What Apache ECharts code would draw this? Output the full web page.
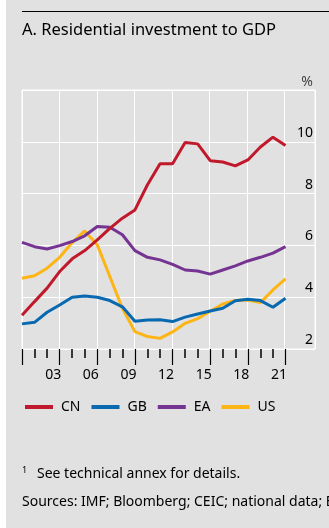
<!DOCTYPE html>
<html>
<head>
<meta charset="utf-8">
<script src="https://cdn.jsdelivr.net/npm/echarts@6/dist/echarts.min.js"></script>
<style>
html,body{margin:0;padding:0;background:#fff;}
#chart{width:329px;height:528px;}
</style>
</head>
<body>
<div id="chart"></div>
<script>
var years = [2000,2001,2002,2003,2004,2005,2006,2007,2008,2009,2010,2011,2012,2013,2014,2015,2016,2017,2018,2019,2020,2021];
var cn = [3.30,3.83,4.35,4.99,5.48,5.80,6.21,6.66,7.05,7.37,8.34,9.15,9.15,9.97,9.92,9.27,9.22,9.07,9.30,9.80,10.18,9.86];
var gb = [2.97,3.03,3.42,3.70,4.00,4.05,4.00,3.87,3.63,3.07,3.12,3.13,3.06,3.23,3.35,3.47,3.57,3.86,3.92,3.87,3.61,3.96];
var ea = [6.12,5.95,5.86,5.99,6.15,6.37,6.73,6.70,6.41,5.80,5.54,5.44,5.27,5.05,5.01,4.89,5.05,5.21,5.40,5.54,5.70,5.95];
var us = [4.73,4.83,5.12,5.54,6.11,6.56,6.02,4.80,3.57,2.67,2.48,2.41,2.66,2.99,3.17,3.46,3.74,3.87,3.89,3.79,4.28,4.71];
var tickLabels = [2003,2006,2009,2012,2015,2018,2021];
var yTicks = [2,4,6,8,10];

function pairs(arr){ return years.map(function(y,i){ return [y, arr[i]]; }); }

var FONT = 'Noto Sans';
var chart = echarts.init(document.getElementById('chart'), null, {renderer:'canvas'});
chart.setOption({
  backgroundColor: '#fff',
  animation: false,
  textStyle: {fontFamily: FONT},
  title: {
    text: 'A. Residential investment to GDP',
    left: 22, top: 22, padding: 0,
    textStyle: {fontFamily: FONT, fontSize: 16.5, fontWeight: 'normal', color: '#000'}
  },
  graphic: [
    {type:'rect', z:-10, shape:{x:6,y:0,width:323,height:528}, style:{fill:'#e1e1e1'}},
    {type:'line', shape:{x1:22,y1:11.5,x2:329,y2:11.5}, style:{stroke:'#000', lineWidth:1}},
    {type:'text', x:313, y:82, style:{text:'%', fill:'#444', font:'14px "Noto Sans"', textAlign:'right', textVerticalAlign:'middle'}},
    {type:'text', x:22, y:470, style:{text:'1', fill:'#000', font:'9px "Noto Sans"', textAlign:'left', textVerticalAlign:'middle'}},
    {type:'text', x:37, y:474, style:{text:'See technical annex for details.', fill:'#000', font:'14px "Noto Sans"', textAlign:'left', textVerticalAlign:'middle'}},
    {type:'text', x:22, y:502, style:{text:'Sources: IMF; Bloomberg; CEIC; national data; BIS.', fill:'#000', font:'14px "Noto Sans"', textAlign:'left', textVerticalAlign:'middle'}}
  ],
  legend: {
    left: 25, top: 400, padding: 0,
    icon: 'rect', itemWidth: 28, itemHeight: 4, itemGap: 11,
    textStyle: {fontFamily: FONT, fontSize: 14, color: '#000', padding: [0,0,0,3]},
    data: ['CN','GB','EA','US']
  },
  grid: [
    {left: 22, right: 14, top: 90, bottom: 179, show: true, borderColor: '#fff', borderWidth: 1, backgroundColor: 'transparent'},
    {left: 22, right: 43.5, top: 90, bottom: 179, show: false}
  ],
  xAxis: [
    {
      gridIndex: 0, type: 'value', min: 2000, max: 2023.44, interval: 3,
      axisLine: {show: false}, axisTick: {show: false}, axisLabel: {show: false},
      splitLine: {show: true, lineStyle: {color: '#fff', width: 1}}
    },
    {
      gridIndex: 1, type: 'value', min: 2000, max: 2021, interval: 3,
      axisLine: {show: false},
      axisTick: {show: true, length: 16, lineStyle: {color: '#000', width: 1.2}},
      minorTick: {show: true, splitNumber: 3, length: 9, lineStyle: {color: '#000', width: 1.5}},
      axisLabel: {
        show: true, margin: 19, padding: [0,13,0,0],
        fontFamily: FONT, fontSize: 14, color: '#000',
        formatter: function(v){ if (tickLabels.indexOf(v) < 0) return ''; var s = String(Math.round(v) % 100); return s.length < 2 ? '0' + s : s; }
      },
      splitLine: {show: false}
    }
  ],
  yAxis: [
    {
      gridIndex: 0, type: 'value', min: 2, max: 12, interval: 2, position: 'right',
      axisLine: {show: false}, axisTick: {show: false},
      axisLabel: {
        inside: true, margin: 2, verticalAlign: 'bottom', padding: [0,0,2,0],
        fontFamily: FONT, fontSize: 14, color: '#000',
        formatter: function(v){ return yTicks.indexOf(v) >= 0 ? String(v) : ''; }
      },
      splitLine: {show: true, lineStyle: {color: '#fff', width: 1}}
    },
    {
      gridIndex: 1, type: 'value', min: 2, max: 12, interval: 2,
      axisLine: {show: false}, axisTick: {show: false}, axisLabel: {show: false}, splitLine: {show: false}
    }
  ],
  series: [
    {name:'US', type:'line', xAxisIndex:1, yAxisIndex:1, data: pairs(us), showSymbol:false, symbol:'none', lineStyle:{width:3, color:'#fdb515'}, itemStyle:{color:'#fdb515'}, z:2},
    {name:'EA', type:'line', xAxisIndex:1, yAxisIndex:1, data: pairs(ea), showSymbol:false, symbol:'none', lineStyle:{width:3, color:'#763492'}, itemStyle:{color:'#763492'}, z:3},
    {name:'GB', type:'line', xAxisIndex:1, yAxisIndex:1, data: pairs(gb), showSymbol:false, symbol:'none', lineStyle:{width:3, color:'#0868b0'}, itemStyle:{color:'#0868b0'}, z:4},
    {name:'CN', type:'line', xAxisIndex:1, yAxisIndex:1, data: pairs(cn), showSymbol:false, symbol:'none', lineStyle:{width:3, color:'#c0192c'}, itemStyle:{color:'#c0192c'}, z:5}
  ]
});
</script>
</body>
</html>
